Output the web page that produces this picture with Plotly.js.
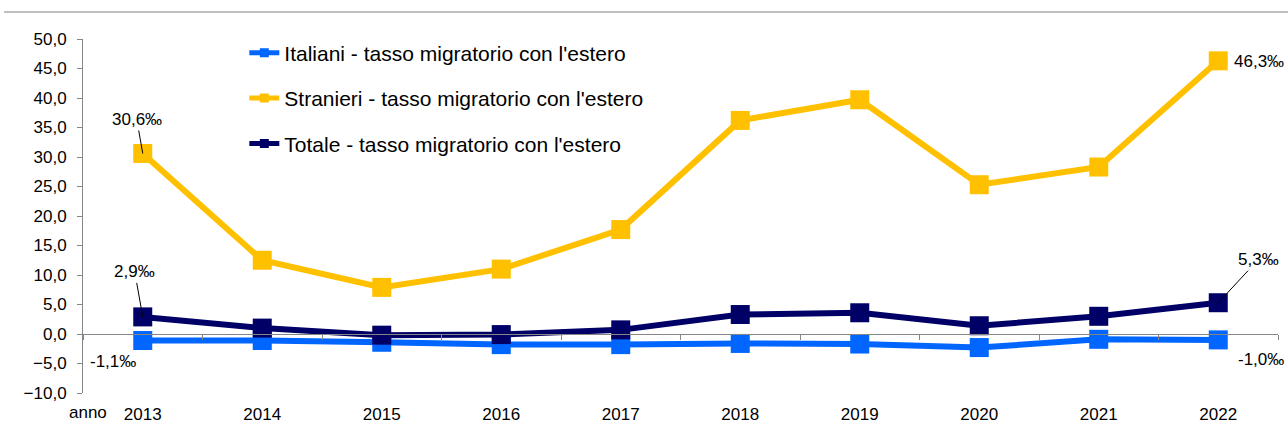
<!DOCTYPE html>
<html>
<head>
<meta charset="utf-8">
<script src="https://cdn.plot.ly/plotly-3.0.1.min.js"></script>
<style>
html,body{margin:0;padding:0;background:#fff;}
#chart{width:1288px;height:435px;}
</style>
</head>
<body>
<div id="chart"></div>
<script>
// ---- data ----
const years = ["2013","2014","2015","2016","2017","2018","2019","2020","2021","2022"];
const italiani = [-1.1, -1.1, -1.4, -1.8, -1.8, -1.6, -1.7, -2.3, -0.9, -1.0];
const stranieri = [30.6, 12.5, 7.9, 11.0, 17.7, 36.2, 39.7, 25.3, 28.3, 46.3];
const totale = [2.9, 1.0, -0.2, -0.1, 0.7, 3.3, 3.6, 1.4, 3.0, 5.3];
const seriesNames = [
  "Italiani - tasso migratorio con l'estero",
  "Stranieri - tasso migratorio con l'estero",
  "Totale - tasso migratorio con l'estero"
];
const yTicks = [-10, -5, 0, 5, 10, 15, 20, 25, 30, 35, 40, 45, 50];

const colors = ["#0066FF", "#FFC000", "#000066"];
const FONT = "Liberation Sans, Arial, sans-serif";

function fmt(v){ return v.toFixed(1).replace('.', ',') + '‰'; }

const series = [italiani, stranieri, totale];
const traces = [];
series.forEach((s, i) => {
  traces.push({
    x: years, y: s, type: 'scatter', mode: 'lines+markers',
    line: {color: colors[i], width: 6},
    marker: {symbol: 'square', size: 19, color: colors[i]},
    showlegend: false, hoverinfo: 'skip', cliponaxis: false
  });
});
// legend entries (smaller symbols, as in the reference legend)
series.forEach((s, i) => {
  traces.push({
    x: [null], y: [null], type: 'scatter', mode: 'lines+markers',
    name: seriesNames[i], legendgroup: 'g' + i,
    line: {color: colors[i], width: 5},
    marker: {symbol: 'square', size: 9, color: colors[i]},
    showlegend: true, hoverinfo: 'skip'
  });
});
// zero-line axis carrier
traces.push({x: years, y: years.map(() => null), xaxis: 'x2', yaxis: 'y',
  type: 'scatter', mode: 'lines', showlegend: false, hoverinfo: 'skip'});

const first = 0, last = years.length - 1;   // category serial positions
const annotations = [
  {x: first, y: stranieri[first], text: fmt(stranieri[first]), showarrow: true, arrowhead: 0,
   arrowwidth: 1, arrowcolor: '#000', ax: -6, ay: -34, standoff: 0},
  {x: first, y: totale[first], text: fmt(totale[first]), showarrow: true, arrowhead: 0,
   arrowwidth: 1, arrowcolor: '#000', ax: -8, ay: -45, standoff: 0},
  {x: first, y: italiani[first], text: fmt(italiani[first]), showarrow: false,
   xshift: -30, yshift: -21},
  {x: last, y: stranieri[last], text: fmt(stranieri[last]), showarrow: false,
   xanchor: 'left', xshift: 14, yshift: -1},
  {x: last, y: totale[last], text: fmt(totale[last]), showarrow: true, arrowhead: 0,
   arrowwidth: 1, arrowcolor: '#000', ax: 40, ay: -43, standoff: 0},
  {x: last, y: italiani[last], text: fmt(italiani[last]), showarrow: false,
   xanchor: 'left', xshift: 18, yshift: -20},
  {xref: 'paper', yref: 'paper', x: 0, y: 0, text: 'anno', showarrow: false,
   xanchor: 'center', yanchor: 'top', xshift: 5, yshift: -8}
].map(a => Object.assign({font: {family: FONT, size: 17, color: '#000'}}, a));

const layout = {
  width: 1288, height: 435,
  margin: {l: 83, r: 10, t: 39, b: 42},
  paper_bgcolor: '#fff', plot_bgcolor: '#fff',
  separators: ',.',
  font: {family: FONT, size: 17, color: '#000'},
  xaxis: {
    type: 'category', range: [-0.5, 9.5], showgrid: false, zeroline: false,
    showline: false, ticks: 'outside', ticklen: 6, tickcolor: 'rgba(0,0,0,0)',
    tickfont: {family: FONT, size: 17, color: '#000'}, fixedrange: true
  },
  xaxis2: {
    type: 'category', range: [-0.5, 9.5], overlaying: 'x', anchor: 'free',
    position: 10/60, showgrid: false, zeroline: false, showline: true,
    linecolor: '#868686', linewidth: 1, ticks: 'outside', ticklen: 5,
    tickcolor: '#868686', tickwidth: 1, tickson: 'boundaries',
    showticklabels: false, fixedrange: true
  },
  yaxis: {
    range: [-10, 50], tickvals: yTicks, tickformat: '.1f',
    showgrid: false, zeroline: false, showline: true, linecolor: '#868686',
    linewidth: 1, ticks: 'outside', ticklen: 5, tickcolor: '#868686',
    ticklabelstandoff: 7,
    tickfont: {family: FONT, size: 17, color: '#000'}, fixedrange: true
  },
  legend: {
    x: 0.135, xanchor: 'left', y: 1.018, yanchor: 'top',
    bgcolor: 'rgba(0,0,0,0)', borderwidth: 0,
    traceorder: 'grouped', tracegroupgap: 15,
    font: {family: FONT, size: 21, color: '#000'}
  },
  shapes: [
    {type: 'line', xref: 'paper', yref: 'paper', x0: -0.066, x1: 1.01,
     y0: 1.076, y1: 1.076, line: {color: '#BFBFBF', width: 2}}
  ],
  annotations: annotations
};

Plotly.newPlot('chart', traces, layout, {displayModeBar: false, staticPlot: true});
</script>
</body>
</html>
